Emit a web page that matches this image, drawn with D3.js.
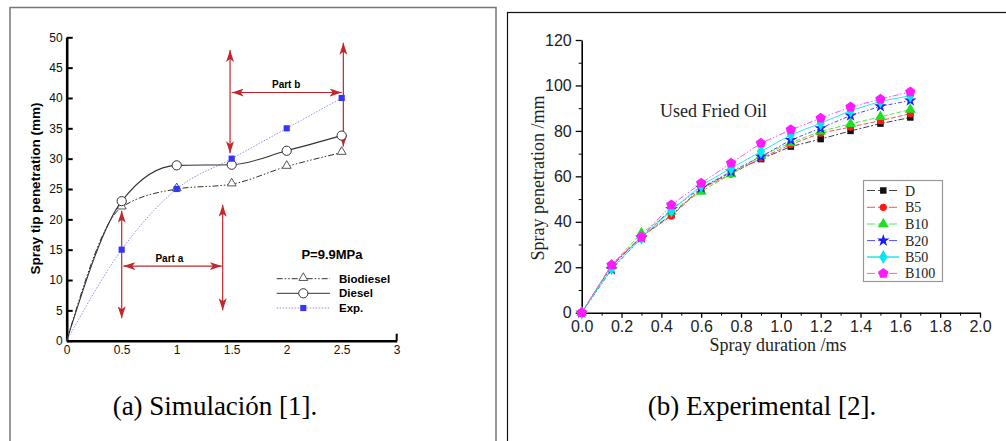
<!DOCTYPE html>
<html>
<head>
<meta charset="utf-8">
<script src="https://cdn.jsdelivr.net/npm/d3@7"></script>
<style>
  body { margin: 0; background: #fff; }
  .sans { font-family: "Liberation Sans", Arial, sans-serif; }
  .serif { font-family: "Liberation Serif", "Times New Roman", serif; }
</style>
</head>
<body>
<svg id="chart" width="1006" height="441"></svg>
<script>
// ---- panel (a): simulation ----
const simTime = [0, 0.5, 1, 1.5, 2, 2.5];
const simBiodiesel = [0, 22, 25, 25.8, 28.7, 31];
const simDiesel = [0, 23, 28.9, 29, 31.3, 33.8];
const simExp = [0, 15, 25, 30, 35, 40];
const simXTicks = [0, 0.5, 1, 1.5, 2, 2.5, 3];
const simYTicks = [0, 5, 10, 15, 20, 25, 30, 35, 40, 45, 50];
const simLegend = ["Biodiesel", "Diesel", "Exp."];
const simVArrows = [[0.5, 21.4, 3.7], [1.418, 22.4, 5.0], [1.485, 47.9, 30.9], [2.515, 49.1, 32.0]];
const simHArrows = [[12.3, 0.515, 1.41], [40.9, 1.5, 2.5]];
const simPartLabels = [["Part a", 0.933, 12.9], ["Part b", 1.995, 41.6]];

// ---- panel (b): experimental ----
const sprayTime = [0, 0.15, 0.3, 0.45, 0.6, 0.75, 0.9, 1.05, 1.2, 1.35, 1.5, 1.65];
const seriesNames = ["D", "B5", "B10", "B20", "B50", "B100"];
const seriesD = [0, 20.5, 33.5, 43, 54.7, 61.7, 67.6, 73.1, 76.4, 80, 83.2, 85.9];
const seriesB5 = [0, 21, 33.5, 42.5, 54.5, 61, 68, 74, 79, 81.7, 84.5, 87.6];
const seriesB10 = [0, 21, 35, 44.5, 53.3, 61, 69, 74.8, 79.8, 83.1, 86.2, 89.4];
const seriesB20 = [0, 19, 33, 45.5, 55, 62.1, 68.7, 76, 81.2, 86.8, 90.8, 93.4];
const seriesB50 = [0, 19.5, 33, 45, 56, 63.6, 70.9, 78.3, 83.4, 88.9, 93, 95.5];
const seriesB100 = [0, 21, 33.3, 47.4, 57, 65.8, 74.6, 80.5, 85.6, 90.5, 94, 97.2];
const expXTicks = [0, 0.2, 0.4, 0.6, 0.8, 1.0, 1.2, 1.4, 1.6, 1.8, 2.0];
const expYTicks = [0, 20, 40, 60, 80, 100, 120];

const svg = d3.select("#chart");
const arrowRed = "#c1272d";

// pentagon symbol for B100 (d3 has none)
const symbolPentagon = {
  draw(context, size) {
    const r = Math.sqrt(size / 2.378);
    for (let i = 0; i < 5; i++) {
      const a = -Math.PI / 2 + i * 2 * Math.PI / 5;
      if (i === 0) context.moveTo(r * Math.cos(a), r * Math.sin(a));
      else context.lineTo(r * Math.cos(a), r * Math.sin(a));
    }
    context.closePath();
  }
};

function drawFrames() {
  svg.append("rect")
    .attr("x", 10).attr("y", 7.5)
    .attr("width", 486).attr("height", 450)
    .attr("fill", "none").attr("stroke", "#777").attr("stroke-width", 1.5);

  svg.append("rect")
    .attr("x", 507.5).attr("y", 12.5)
    .attr("width", 520).attr("height", 450)
    .attr("fill", "none").attr("stroke", "#111").attr("stroke-width", 1.2);

  svg.append("text").attr("class", "serif")
    .attr("x", 215).attr("y", 415)
    .attr("text-anchor", "middle").attr("font-size", 27)
    .text("(a) Simulación [1].");

  svg.append("text").attr("class", "serif")
    .attr("x", 762).attr("y", 415)
    .attr("text-anchor", "middle").attr("font-size", 27)
    .text("(b) Experimental [2].");
}

function drawSimulation() {
  const x = d3.scaleLinear().domain([0, 3]).range([66.7, 396.7]);
  const y = d3.scaleLinear().domain([0, 50]).range([340.7, 37.3]);
  const g = svg.append("g").attr("class", "sans");

  // arrow head marker
  svg.append("defs").append("marker")
    .attr("id", "head")
    .attr("viewBox", "0 0 12 8")
    .attr("refX", 12).attr("refY", 4)
    .attr("markerWidth", 12).attr("markerHeight", 8)
    .attr("markerUnits", "userSpaceOnUse")
    .attr("orient", "auto-start-reverse")
    .append("path")
    .attr("d", "M0,0 L12,4 L0,8 L3,4 Z")
    .attr("fill", arrowRed);

  // axes
  const yAxis = g.append("g")
    .attr("transform", `translate(${x(0)},0)`)
    .call(d3.axisLeft(y).tickValues(simYTicks).tickSizeInner(-6).tickSizeOuter(0).tickPadding(4));
  yAxis.select(".domain").attr("stroke-width", 2.6);
  yAxis.selectAll(".tick line").attr("stroke-width", 2);
  yAxis.selectAll("text").attr("font-size", 12).attr("fill", "#111");

  const xAxis = g.append("g")
    .attr("transform", `translate(0,${y(0)})`)
    .call(d3.axisBottom(x).tickValues(simXTicks).tickFormat(d3.format("~g"))
      .tickSizeInner(0).tickSizeOuter(0).tickPadding(5));
  xAxis.select(".domain").attr("stroke-width", 2.6);
  xAxis.selectAll("text").attr("font-size", 12).attr("fill", "#111");

  g.append("line")
    .attr("x1", x(3)).attr("x2", x(3))
    .attr("y1", y(0)).attr("y2", y(0) - 7)
    .attr("stroke", "#000").attr("stroke-width", 2);

  g.append("text")
    .attr("transform", `translate(40,${188.5}) rotate(-90)`)
    .attr("text-anchor", "middle")
    .attr("font-size", 13.5).attr("font-weight", "bold")
    .text("Spray tip penetration (mm)");

  // lines
  const line = function (values) {
    return d3.line()
      .x(function (d, i) { return x(simTime[i]); })
      .y(function (d) { return y(d); })
      .curve(d3.curveMonotoneX)(values);
  };

  g.append("path").attr("d", line(simExp))
    .attr("fill", "none").attr("stroke", "#8f8fe6").attr("stroke-width", 1)
    .attr("stroke-dasharray", "1.5,1.5");
  g.append("path").attr("d", line(simBiodiesel))
    .attr("fill", "none").attr("stroke", "#333").attr("stroke-width", 1)
    .attr("stroke-dasharray", "6,2,1.5,2,1.5,2");
  g.append("path").attr("d", line(simDiesel))
    .attr("fill", "none").attr("stroke", "#333").attr("stroke-width", 1.1);

  // annotation arrows
  simVArrows.forEach(function (a) {
    g.append("line")
      .attr("x1", x(a[0])).attr("x2", x(a[0]))
      .attr("y1", y(a[1])).attr("y2", y(a[2]))
      .attr("stroke", arrowRed).attr("stroke-width", 1.2)
      .attr("marker-start", "url(#head)").attr("marker-end", "url(#head)");
  });
  simHArrows.forEach(function (a) {
    g.append("line")
      .attr("x1", x(a[1])).attr("x2", x(a[2]))
      .attr("y1", y(a[0])).attr("y2", y(a[0]))
      .attr("stroke", arrowRed).attr("stroke-width", 1.2)
      .attr("marker-start", "url(#head)").attr("marker-end", "url(#head)");
  });
  simPartLabels.forEach(function (p) {
    g.append("text")
      .attr("x", x(p[1])).attr("y", y(p[2]))
      .attr("text-anchor", "middle")
      .attr("font-size", 10).attr("font-weight", "bold")
      .text(p[0]);
  });

  // markers
  const tri = d3.symbol().type(d3.symbolTriangle).size(34);
  const sq = d3.symbol().type(d3.symbolSquare).size(38);

  simBiodiesel.forEach(function (v, i) {
    if (i === 0) return;
    g.append("path").attr("d", tri)
      .attr("transform", `translate(${x(simTime[i])},${y(v) - 0.8})`)
      .attr("fill", "#fff").attr("stroke", "#444").attr("stroke-width", 0.9);
  });
  simDiesel.forEach(function (v, i) {
    if (i === 0) return;
    g.append("circle")
      .attr("cx", x(simTime[i])).attr("cy", y(v)).attr("r", 4.6)
      .attr("fill", "#fff").attr("stroke", "#333").attr("stroke-width", 1);
  });
  simExp.forEach(function (v, i) {
    if (i === 0) return;
    g.append("path").attr("d", sq)
      .attr("transform", `translate(${x(simTime[i])},${y(v)})`)
      .attr("fill", "#3535f5");
  });

  // legend
  g.append("text")
    .attr("x", 332).attr("y", 259)
    .attr("text-anchor", "middle")
    .attr("font-size", 13).attr("font-weight", "bold")
    .text("P=9.9MPa");

  const rowY = [278.7, 293.3, 308];
  const legStroke = ["#333", "#333", "#8f8fe6"];
  const legDash = ["6,2,1.5,2,1.5,2", null, "1.5,1.5"];
  simLegend.forEach(function (name, i) {
    g.append("line")
      .attr("x1", 276.7).attr("x2", 330)
      .attr("y1", rowY[i]).attr("y2", rowY[i])
      .attr("stroke", legStroke[i]).attr("stroke-width", 1)
      .attr("stroke-dasharray", legDash[i]);
    if (i === 0) {
      g.append("path").attr("d", tri)
        .attr("transform", `translate(303.3,${rowY[i] - 0.8})`)
        .attr("fill", "#fff").attr("stroke", "#444").attr("stroke-width", 0.9);
    } else if (i === 1) {
      g.append("circle").attr("cx", 303.3).attr("cy", rowY[i]).attr("r", 4.6)
        .attr("fill", "#fff").attr("stroke", "#333");
    } else {
      g.append("path").attr("d", sq)
        .attr("transform", `translate(303.3,${rowY[i]})`)
        .attr("fill", "#3535f5");
    }
    g.append("text")
      .attr("x", 339).attr("y", rowY[i] + 4)
      .attr("font-size", 11.5).attr("font-weight", "bold")
      .text(name);
  });
}

function drawExperimental() {
  const x = d3.scaleLinear().domain([0, 2]).range([581.7, 980]);
  const y = d3.scaleLinear().domain([0, 120]).range([312.7, 40]);
  const g = svg.append("g").attr("class", "serif");

  // minor ticks
  g.append("g")
    .attr("transform", `translate(${x(0)},0)`)
    .call(d3.axisLeft(y).tickValues(d3.range(10, 120, 20)).tickSize(3).tickFormat(""))
    .select(".domain").remove();
  g.append("g")
    .attr("transform", `translate(0,${y(0)})`)
    .call(d3.axisBottom(x).tickValues(d3.range(0.1, 2, 0.2)).tickSize(3).tickFormat(""))
    .select(".domain").remove();

  const yAxis = g.append("g")
    .attr("transform", `translate(${x(0)},0)`)
    .call(d3.axisLeft(y).tickValues(expYTicks).tickSize(6).tickPadding(4).tickSizeOuter(0));
  yAxis.selectAll("text").attr("font-size", 16).attr("fill", "#222");
  yAxis.select(".domain").attr("stroke-width", 1.6);
  yAxis.selectAll(".tick line").attr("stroke-width", 1.3);

  const xAxis = g.append("g")
    .attr("transform", `translate(0,${y(0)})`)
    .call(d3.axisBottom(x).tickValues(expXTicks).tickFormat(d3.format(".1f")).tickSize(5).tickPadding(3).tickSizeOuter(0));
  xAxis.selectAll("text").attr("font-size", 16).attr("fill", "#222");
  xAxis.select(".domain").attr("stroke-width", 1.6);
  xAxis.selectAll(".tick line").attr("stroke-width", 1.3);

  g.append("text")
    .attr("x", 778).attr("y", 351)
    .attr("text-anchor", "middle").attr("font-size", 18).attr("fill", "#222")
    .text("Spray duration /ms");

  g.append("text")
    .attr("transform", `translate(544,178) rotate(-90)`)
    .attr("text-anchor", "middle").attr("font-size", 18).attr("fill", "#222")
    .text("Spray penetration /mm");

  g.append("text")
    .attr("x", 660).attr("y", 117)
    .attr("font-size", 18).attr("fill", "#222")
    .text("Used Fried Oil");

  const allSeries = [seriesD, seriesB5, seriesB10, seriesB20, seriesB50, seriesB100];
  const colors = ["#111", "#ff1a1a", "#1ee01e", "#1a1aff", "#00e8f0", "#ff1aff"];
  const lineColors = ["#444", "#ff5050", "#50e850", "#5050ff", "#30e8f0", "#ff50ff"];
  const dashes = ["6,2,2,2", "5,2", "5,2", "4,2,1.5,2", null, "6,2,1.5,2,1.5,2"];
  const symbols = [
    d3.symbol().type(d3.symbolSquare).size(42),
    d3.symbol().type(d3.symbolCircle).size(42),
    d3.symbol().type(d3.symbolTriangle).size(52),
    d3.symbol().type(d3.symbolStar).size(48),
    d3.symbol().type(d3.symbolDiamond).size(56),
    d3.symbol().type(symbolPentagon).size(70)
  ];

  const line = d3.line()
    .x(function (d, i) { return x(sprayTime[i]); })
    .y(function (d) { return y(d); });

  allSeries.forEach(function (values, s) {
    g.append("path").attr("d", line(values))
      .attr("fill", "none").attr("stroke", lineColors[s]).attr("stroke-width", 1)
      .attr("stroke-dasharray", dashes[s]);
    g.selectAll(".m" + s)
      .data(values)
      .enter()
      .append("path")
      .attr("class", "m" + s)
      .attr("d", symbols[s])
      .attr("transform", function (d, i) { return `translate(${x(sprayTime[i])},${y(d)})`; })
      .attr("fill", colors[s]);
  });

  // legend
  g.append("rect")
    .attr("x", 863.5).attr("y", 180.5)
    .attr("width", 79).attr("height", 101)
    .attr("fill", "#fff").attr("stroke", "#999").attr("stroke-width", 1.2);

  const rowY = [190.5, 207.3, 224, 240.6, 257, 273.4];
  seriesNames.forEach(function (name, s) {
    g.append("line")
      .attr("x1", 867).attr("x2", 899)
      .attr("y1", rowY[s]).attr("y2", rowY[s])
      .attr("stroke", lineColors[s]).attr("stroke-width", s === 4 ? 1.6 : 1)
      .attr("stroke-dasharray", s === 4 ? null : "8,3");
    g.append("path").attr("d", symbols[s])
      .attr("transform", `translate(883.3,${rowY[s]})`)
      .attr("fill", colors[s]);
    g.append("text")
      .attr("x", 905).attr("y", rowY[s] + 5)
      .attr("font-size", 14).attr("fill", "#222")
      .text(name);
  });
}

drawFrames();
drawSimulation();
drawExperimental();
</script>
</body>
</html>
